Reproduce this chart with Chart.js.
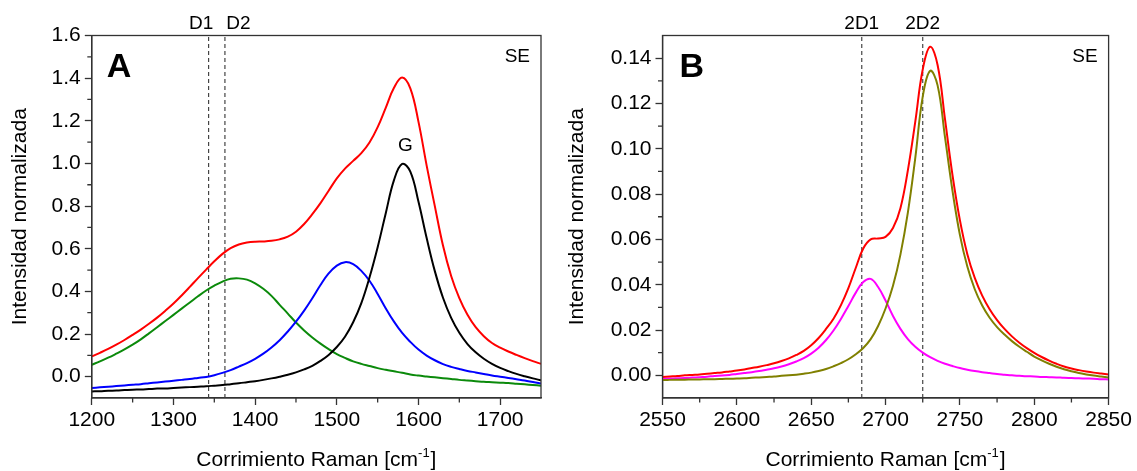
<!DOCTYPE html>
<html>
<head>
<meta charset="utf-8">
<script src="https://cdn.jsdelivr.net/npm/chart.js@4"></script>
<style>
  html, body { margin: 0; padding: 0; background: #fff; }
  #wrap { position: relative; width: 1137px; height: 471px; overflow: hidden; }
  canvas { position: absolute; top: 0; }
  #chartA { left: 0; }
  #chartB { left: 555px; }
</style>
</head>
<body>
<div id="wrap">
  <canvas id="chartA" width="555" height="471"></canvas>
  <canvas id="chartB" width="582" height="471"></canvas>
</div>
<script>
// Raman spectra, two panels (first-order region A, second-order region B).
const FONT = "'Liberation Sans', Arial, Helvetica, sans-serif";
const INK = '#000';
const FRAME = '#333';

// ── Panel A: 1200–1750 cm-1 ──────────────────────────────────────────────────
const ramanA = [
  1200, 1210, 1220, 1230, 1240, 1250, 1260, 1270, 1280, 1290,
  1300, 1310, 1320, 1330, 1340, 1350, 1360, 1370, 1380, 1390,
  1400, 1410, 1420, 1430, 1440, 1450, 1460, 1470, 1480, 1490,
  1500, 1510, 1520, 1530, 1540, 1550, 1560, 1570, 1580, 1590,
  1600, 1610, 1620, 1630, 1640, 1650, 1660, 1670, 1680, 1690,
  1700, 1710, 1720, 1730, 1740, 1750,
];
const sumA = [
  0.095, 0.112, 0.130, 0.150, 0.172, 0.196, 0.221, 0.248, 0.277, 0.309,
  0.343, 0.381, 0.421, 0.462, 0.502, 0.541, 0.576, 0.603, 0.620, 0.629,
  0.633, 0.634, 0.637, 0.644, 0.657, 0.680, 0.716, 0.762, 0.814, 0.872,
  0.930, 0.976, 1.012, 1.048, 1.098, 1.170, 1.262, 1.355, 1.403, 1.352,
  1.195, 0.990, 0.800, 0.615, 0.472, 0.368, 0.290, 0.232, 0.190, 0.158,
  0.136, 0.118, 0.102, 0.087, 0.073, 0.060,
];
const d1A = [
  0.056, 0.072, 0.089, 0.108, 0.128, 0.150, 0.175, 0.203, 0.232, 0.261,
  0.290, 0.319, 0.348, 0.377, 0.404, 0.427, 0.446, 0.459, 0.461, 0.455,
  0.438, 0.412, 0.379, 0.337, 0.296, 0.254, 0.217, 0.184, 0.155, 0.129,
  0.106, 0.088, 0.072, 0.060, 0.050, 0.040, 0.032, 0.025, 0.018, 0.010,
  0.005, 0.001, -0.003, -0.007, -0.011, -0.015, -0.018, -0.021, -0.024, -0.026,
  -0.028, -0.030, -0.033, -0.036, -0.039, -0.042,
];
const d3A = [
  -0.053, -0.050, -0.047, -0.044, -0.041, -0.038, -0.035, -0.031, -0.027, -0.023,
  -0.019, -0.015, -0.011, -0.006, -0.001, 0.007, 0.018, 0.031, 0.047, 0.064,
  0.084, 0.108, 0.137, 0.171, 0.212, 0.258, 0.310, 0.368, 0.430, 0.484,
  0.521, 0.537, 0.528, 0.496, 0.450, 0.388, 0.320, 0.258, 0.205, 0.163,
  0.127, 0.099, 0.077, 0.059, 0.046, 0.036, 0.027, 0.020, 0.013, 0.006,
  0.000, -0.006, -0.012, -0.018, -0.025, -0.032,
];
const gA = [
  -0.069, -0.068, -0.066, -0.065, -0.063, -0.061, -0.060, -0.058, -0.056, -0.055,
  -0.053, -0.051, -0.049, -0.047, -0.045, -0.042, -0.039, -0.035, -0.031, -0.026,
  -0.021, -0.015, -0.008, 0.000, 0.009, 0.020, 0.034, 0.051, 0.074, 0.102,
  0.139, 0.187, 0.255, 0.345, 0.465, 0.607, 0.768, 0.922, 0.998, 0.962,
  0.820, 0.650, 0.495, 0.370, 0.276, 0.206, 0.153, 0.114, 0.084, 0.060,
  0.041, 0.026, 0.013, 0.002, -0.008, -0.017,
];
const bandsA = [1343, 1363];
const bandNamesA = ['D1', 'D2'];
const xTicksA = [1200, 1300, 1400, 1500, 1600, 1700];
const yTicksA = [0, 0.2, 0.4, 0.6, 0.8, 1.0, 1.2, 1.4, 1.6];
const minorXA = [1250, 1350, 1450, 1550, 1650];
const minorYA = [0.1, 0.3, 0.5, 0.7, 0.9, 1.1, 1.3, 1.5];

// ── Panel B: 2550–2850 cm-1 ──────────────────────────────────────────────────
const ramanB = [
  2550, 2555, 2560, 2565, 2570, 2575, 2580, 2585, 2590, 2595,
  2600, 2605, 2610, 2615, 2620, 2625, 2630, 2635, 2640, 2645,
  2650, 2655, 2660, 2665, 2670, 2675, 2680, 2685, 2690, 2695,
  2700, 2705, 2710, 2715, 2720, 2725, 2730, 2735, 2740, 2745,
  2750, 2755, 2760, 2765, 2770, 2775, 2780, 2785, 2790, 2795,
  2800, 2805, 2810, 2815, 2820, 2825, 2830, 2835, 2840, 2845,
  2850,
];
const sumB = [
  -0.0007, -0.0005, -0.0003, 0.0000, 0.0002, 0.0004, 0.0007, 0.0010, 0.0013, 0.0017,
  0.0021, 0.0026, 0.0032, 0.0038, 0.0045, 0.0053, 0.0063, 0.0075, 0.0090, 0.0108,
  0.0133, 0.0165, 0.0205, 0.0250, 0.0310, 0.0385, 0.0475, 0.0560, 0.0600, 0.0604,
  0.0611, 0.0650, 0.0738, 0.0905, 0.1120, 0.1350, 0.1450, 0.1370, 0.1130, 0.0885,
  0.0685, 0.0535, 0.0430, 0.0352, 0.0292, 0.0244, 0.0205, 0.0172, 0.0144, 0.0120,
  0.0099, 0.0081, 0.0065, 0.0051, 0.0039, 0.0030, 0.0023, 0.0017, 0.0012, 0.0008,
  0.0004,
];
const twoD1B = [
  -0.0015, -0.0014, -0.0013, -0.0012, -0.0010, -0.0008, -0.0006, -0.0003, -0.0001, 0.0002,
  0.0006, 0.0010, 0.0014, 0.0019, 0.0025, 0.0031, 0.0039, 0.0049, 0.0061, 0.0076,
  0.0096, 0.0122, 0.0156, 0.0198, 0.0249, 0.0306, 0.0365, 0.0412, 0.0426, 0.0390,
  0.0330, 0.0262, 0.0205, 0.0160, 0.0126, 0.0100, 0.0080, 0.0064, 0.0051, 0.0041,
  0.0032, 0.0025, 0.0019, 0.0014, 0.0010, 0.0006, 0.0003, 0.0000, -0.0002, -0.0004,
  -0.0005, -0.0007, -0.0008, -0.0009, -0.0011, -0.0012, -0.0013, -0.0014, -0.0015, -0.0017,
  -0.0018,
];
const twoD2B = [
  -0.0020, -0.0020, -0.0019, -0.0019, -0.0018, -0.0018, -0.0017, -0.0017, -0.0016, -0.0015,
  -0.0014, -0.0013, -0.0011, -0.0009, -0.0007, -0.0005, -0.0002, 0.0000, 0.0003, 0.0007,
  0.0012, 0.0019, 0.0028, 0.0040, 0.0054, 0.0071, 0.0093, 0.0121, 0.0160, 0.0218,
  0.0295, 0.0395, 0.0533, 0.0718, 0.0960, 0.1230, 0.1344, 0.1280, 0.1050, 0.0815,
  0.0620, 0.0480, 0.0380, 0.0308, 0.0254, 0.0213, 0.0180, 0.0151, 0.0126, 0.0104,
  0.0083, 0.0066, 0.0051, 0.0038, 0.0027, 0.0018, 0.0010, 0.0004, -0.0001, -0.0005,
  -0.0009,
];
const bandsB = [2684, 2725];
const bandNamesB = ['2D1', '2D2'];
const xTicksB = [2550, 2600, 2650, 2700, 2750, 2800, 2850];
const yTicksB = [0, 0.02, 0.04, 0.06, 0.08, 0.10, 0.12, 0.14];
const minorXB = [2575, 2625, 2675, 2725, 2775, 2825];
const minorYB = [0.01, 0.03, 0.05, 0.07, 0.09, 0.11, 0.13];

// ── helpers ──────────────────────────────────────────────────────────────────
const pts = (xs, ys) => xs.map((x, i) => ({ x, y: ys[i] }));

const curve = (data, color) => ({
  data, borderColor: color, borderWidth: 2, pointRadius: 0, fill: false, tension: 0.4,
});

const dashed = (x, ymin, ymax) => ({
  data: [{ x, y: ymin }, { x, y: ymax }],
  borderColor: '#444', borderWidth: 1.2, borderDash: [4, 3], pointRadius: 0, tension: 0,
});

// frame, minor ticks, x title with superscript, in-plot labels
const decor = {
  id: 'decor',
  afterDraw(chart, _args, o) {
    const { ctx, chartArea: ca, scales: { x, y } } = chart;
    ctx.save();
    ctx.strokeStyle = FRAME;
    ctx.lineWidth = 1.3;
    ctx.strokeRect(ca.left, ca.top, ca.right - ca.left, ca.bottom - ca.top);

    ctx.beginPath();
    for (const v of o.minorX) {
      const px = x.getPixelForValue(v);
      ctx.moveTo(px, ca.bottom); ctx.lineTo(px, ca.bottom + 4.5);
    }
    for (const v of o.minorY) {
      const py = y.getPixelForValue(v);
      ctx.moveTo(ca.left, py); ctx.lineTo(ca.left - 4.5, py);
    }
    ctx.stroke();

    ctx.fillStyle = INK;
    ctx.textBaseline = 'alphabetic';

    // x title: Corrimiento Raman [cm^-1]
    const main = 'Corrimiento Raman [cm', sup = '-1', tail = ']';
    ctx.font = `21px ${FONT}`;
    const w1 = ctx.measureText(main).width, w3 = ctx.measureText(tail).width;
    ctx.font = `13px ${FONT}`;
    const w2 = ctx.measureText(sup).width + 1;
    const tx = (ca.left + ca.right) / 2 - (w1 + w2 + w3) / 2;
    ctx.textAlign = 'left';
    ctx.font = `21px ${FONT}`;
    ctx.fillText(main, tx, 466);
    ctx.font = `13px ${FONT}`;
    ctx.fillText(sup, tx + w1, 457);
    ctx.font = `21px ${FONT}`;
    ctx.fillText(tail, tx + w1 + w2, 466);

    // band names above the frame
    ctx.font = `19px ${FONT}`;
    ctx.textAlign = 'center';
    o.bands.forEach((b, i) => {
      ctx.fillText(o.bandNames[i], x.getPixelForValue(b) + o.bandShift[i], 28.5);
    });

    // panel letter and sample tag
    ctx.font = `bold 34px ${FONT}`;
    ctx.textAlign = 'left';
    ctx.fillText(o.letter, ca.left + o.letterDx, ca.top + 41);
    ctx.font = `19px ${FONT}`;
    ctx.textAlign = 'right';
    ctx.fillText('SE', ca.right - 11, ca.top + 26);

    if (o.peak) {
      ctx.textAlign = 'center';
      ctx.fillText(o.peak.text, x.getPixelForValue(o.peak.x), y.getPixelForValue(o.peak.y));
    }
    ctx.restore();
  },
};

const axisGrid = { drawOnChartArea: false, drawTicks: true, tickLength: 7, tickColor: FRAME, tickWidth: 1.3 };
const axisBorder = { color: FRAME, width: 1.3 };

function panel(canvasId, spec) {
  return new Chart(document.getElementById(canvasId), {
    type: 'line',
    data: { datasets: spec.datasets },
    options: {
      responsive: false,
      animation: false,
      events: [],
      devicePixelRatio: 1,
      layout: { autoPadding: false, padding: { left: 0, top: 35.5, right: spec.padRight, bottom: 0 } },
      plugins: { legend: { display: false }, tooltip: { enabled: false }, decor: spec.decor },
      scales: {
        x: {
          type: 'linear', min: spec.xMin, max: spec.xMax,
          afterFit: (s) => { s.height = 73; },
          afterBuildTicks: (s) => { s.ticks = spec.xTicks.map((v) => ({ value: v })); },
          ticks: {
            autoSkip: false, maxRotation: 0, color: INK, font: { family: FONT, size: 21 }, padding: 3,
            callback: (v) => String(v),
          },
          grid: axisGrid,
          border: axisBorder,
        },
        y: {
          type: 'linear', min: spec.yMin, max: spec.yMax,
          afterFit: (s) => { s.width = spec.yWidth; },
          afterBuildTicks: (s) => { s.ticks = spec.yTicks.map((v) => ({ value: v })); },
          ticks: {
            autoSkip: false, color: INK, font: { family: FONT, size: 21 }, padding: 4,
            callback: (v) => Number(v).toFixed(spec.yDigits),
          },
          title: {
            display: true, text: 'Intensidad normalizada', color: INK,
            font: { family: FONT, size: 21 }, padding: { top: spec.yTitlePad, bottom: 0 },
          },
          grid: axisGrid,
          border: axisBorder,
        },
      },
    },
    plugins: [decor],
  });
}

panel('chartA', {
  xMin: 1200, xMax: 1750, xTicks: xTicksA,
  yMin: -0.1, yMax: 1.6, yTicks: yTicksA, yDigits: 1,
  yWidth: 91.8, yTitlePad: 8, padRight: 14,
  datasets: [
    curve(pts(ramanA, sumA), '#ff0000'),
    curve(pts(ramanA, gA), '#000000'),
    curve(pts(ramanA, d3A), '#0000ff'),
    curve(pts(ramanA, d1A), '#0b8a0b'),
    dashed(bandsA[0], -0.1, 1.6),
    dashed(bandsA[1], -0.1, 1.6),
  ],
  decor: {
    minorX: minorXA, minorY: minorYA,
    bands: bandsA, bandNames: bandNamesA, bandShift: [-7.5, 13.5],
    letter: 'A', letterDx: 15,
    peak: { text: 'G', x: 1584, y: 1.06 },
  },
});

panel('chartB', {
  xMin: 2550, xMax: 2850, xTicks: xTicksB,
  yMin: -0.01, yMax: 0.15, yTicks: yTicksB, yDigits: 2,
  yWidth: 107.5, yTitlePad: 9.4, padRight: 28.4,
  datasets: [
    curve(pts(ramanB, sumB), '#ff0000'),
    curve(pts(ramanB, twoD2B), '#808000'),
    curve(pts(ramanB, twoD1B), '#ff00ff'),
    dashed(bandsB[0], -0.01, 0.15),
    dashed(bandsB[1], -0.01, 0.15),
  ],
  decor: {
    minorX: minorXB, minorY: minorYB,
    bands: bandsB, bandNames: bandNamesB, bandShift: [0, 0],
    letter: 'B', letterDx: 17,
    peak: null,
  },
});
</script>
</body>
</html>
